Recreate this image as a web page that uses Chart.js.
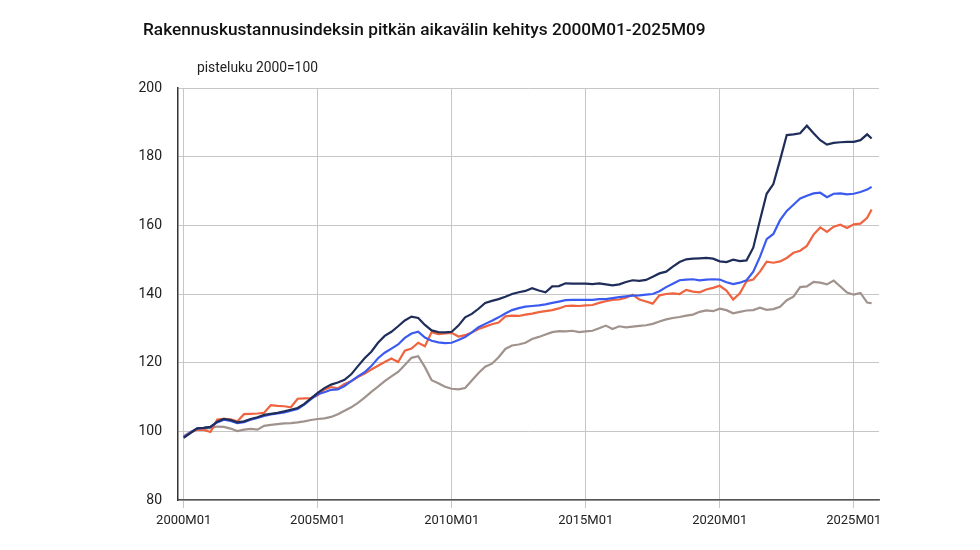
<!DOCTYPE html>
<html>
<head>
<meta charset="utf-8">
<script src="https://cdn.jsdelivr.net/npm/chart.js@4"></script>
<style>
  body { margin: 0; background: #fff; }
  #wrap { position: relative; width: 980px; height: 550px; font-family: Roboto, 'Noto Sans', sans-serif; }
  #title { position: absolute; left: 143px; top: 19px; font-size: 17.25px; font-weight: 500; color: #111; white-space: nowrap; }
  #sub { position: absolute; left: 197px; top: 59px; font-size: 13.8px; color: #222; white-space: nowrap; }
  canvas { position: absolute; left: 0; top: 0; }
</style>
</head>
<body>
<div id="wrap">
  <canvas id="chart" width="980" height="550"></canvas>
  <div id="title">Rakennuskustannusindeksin pitkän aikavälin kehitys 2000M01-2025M09</div>
  <div id="sub">pisteluku 2000=100</div>
</div>
<script>
// kuukaudet (neljännesvuosittain + viimeinen kuukausi)
const periods = [
  '2000M01','2000M04','2000M07','2000M10','2001M01','2001M04','2001M07','2001M10',
  '2002M01','2002M04','2002M07','2002M10','2003M01','2003M04','2003M07','2003M10',
  '2004M01','2004M04','2004M07','2004M10','2005M01','2005M04','2005M07','2005M10',
  '2006M01','2006M04','2006M07','2006M10','2007M01','2007M04','2007M07','2007M10',
  '2008M01','2008M04','2008M07','2008M10','2009M01','2009M04','2009M07','2009M10',
  '2010M01','2010M04','2010M07','2010M10','2011M01','2011M04','2011M07','2011M10',
  '2012M01','2012M04','2012M07','2012M10','2013M01','2013M04','2013M07','2013M10',
  '2014M01','2014M04','2014M07','2014M10','2015M01','2015M04','2015M07','2015M10',
  '2016M01','2016M04','2016M07','2016M10','2017M01','2017M04','2017M07','2017M10',
  '2018M01','2018M04','2018M07','2018M10','2019M01','2019M04','2019M07','2019M10',
  '2020M01','2020M04','2020M07','2020M10','2021M01','2021M04','2021M07','2021M10',
  '2022M01','2022M04','2022M07','2022M10','2023M01','2023M04','2023M07','2023M10',
  '2024M01','2024M04','2024M07','2024M10','2025M01','2025M04','2025M07','2025M09'
];
const xTickLabels = ['2000M01','2005M01','2010M01','2015M01','2020M01','2025M01'];
const yTickValues = [80, 100, 120, 140, 160, 180, 200];

// sarjat (luettu kuvasta)
const navySeries = [
  98.1, 99.5, 100.9, 101.0, 101.3, 102.8, 103.6, 103.3, 102.6, 102.9, 103.6, 104.1,
  104.8, 105.1, 105.4, 105.8, 106.3, 106.8, 108.0, 109.6, 111.2, 112.6, 113.6, 114.2,
  115.0, 116.6, 119.0, 121.3, 123.2, 125.8, 127.8, 129.0, 130.6, 132.3, 133.4, 133.0,
  131.0, 129.4, 128.9, 128.8, 129.0, 130.8, 133.2, 134.2, 135.7, 137.4, 138.0, 138.5,
  139.2, 140.0, 140.5, 140.9, 141.7, 141.0, 140.5, 142.2, 142.3, 143.1, 143.0, 143.0,
  143.0, 142.9, 143.1, 142.8, 142.5, 142.8, 143.5, 144.0, 143.8, 144.1, 145.0, 146.0,
  146.5, 148.0, 149.3, 150.1, 150.3, 150.4, 150.5, 150.3, 149.5, 149.3, 150.0, 149.6,
  149.8, 153.5, 161.5, 169.2, 172.0, 179.0, 186.3, 186.5, 186.8, 189.0, 186.8, 184.8,
  183.5, 184.0, 184.2, 184.3, 184.3, 184.8, 186.5, 185.3
];
const blueSeries = [
  98.3, 99.7, 100.8, 101.0, 101.3, 102.6, 103.4, 103.0, 102.4, 102.7, 103.4, 103.9,
  104.5, 104.9, 105.2, 105.5, 106.0, 106.5, 107.8, 109.4, 110.8, 111.4, 112.1, 112.2,
  113.2, 114.6, 116.0, 117.2, 119.0, 121.3, 122.9, 124.1, 125.3, 127.2, 128.5, 129.0,
  127.3, 126.4, 125.9, 125.7, 125.8, 126.6, 127.5, 128.8, 130.3, 131.3, 132.2, 133.2,
  134.3, 135.3, 135.9, 136.3, 136.5, 136.7, 137.0, 137.4, 137.8, 138.2, 138.3, 138.3,
  138.3, 138.3, 138.5, 138.5, 138.8, 139.1, 139.3, 139.5, 139.6, 139.8, 140.0, 140.8,
  142.0, 143.0, 144.0, 144.2, 144.3, 144.0, 144.2, 144.3, 144.2, 143.4, 142.9, 143.3,
  144.0, 146.5, 150.8, 156.0, 157.5, 161.5, 164.2, 166.0, 167.8, 168.6, 169.3, 169.5,
  168.2, 169.2, 169.3, 169.0, 169.2, 169.7, 170.4, 171.2
];
const redSeries = [
  98.5, 99.6, 100.5, 100.4, 99.8, 103.4, 103.6, 103.5, 102.9, 105.0, 105.1, 105.2,
  105.4, 107.6, 107.4, 107.3, 107.0, 109.5, 109.6, 109.7, 110.5, 112.2, 112.9, 112.5,
  113.8, 114.6, 115.8, 116.8, 118.0, 119.1, 120.2, 121.2, 120.2, 123.5, 124.1, 125.8,
  124.8, 128.9, 128.3, 128.5, 128.7, 127.6, 128.0, 128.8, 129.8, 130.5, 131.2, 131.7,
  133.5, 133.7, 133.6, 134.0, 134.3, 134.7, 135.0, 135.3, 135.8, 136.5, 136.6, 136.5,
  136.7, 136.8, 137.4, 137.9, 138.3, 138.4, 138.9, 139.8, 138.4, 137.8, 137.2, 139.6,
  140.0, 140.2, 140.0, 141.2, 140.7, 140.5, 141.3, 141.8, 142.4, 141.0, 138.4, 140.2,
  143.7, 144.2, 146.5, 149.4, 149.1, 149.5, 150.5, 152.0, 152.6, 154.0, 157.3, 159.4,
  158.1, 159.6, 160.2, 159.2, 160.3, 160.5, 162.2, 164.6
];
const graySeries = [
  98.6, 99.8, 100.7, 100.8, 100.9, 101.4, 101.3, 100.8, 100.1, 100.5, 100.7, 100.5,
  101.6, 101.9, 102.1, 102.3, 102.4, 102.6, 102.9, 103.3, 103.6, 103.8, 104.2, 105.0,
  106.0, 107.0, 108.3, 109.8, 111.5, 113.0, 114.6, 116.0, 117.3, 119.3, 121.4, 121.9,
  118.7, 114.9, 114.0, 113.0, 112.4, 112.2, 112.6, 114.8, 117.0, 118.8, 119.7, 121.6,
  124.0, 125.0, 125.3, 125.8, 126.9, 127.5, 128.2, 128.9, 129.2, 129.1, 129.3, 128.9,
  129.1, 129.3, 130.0, 130.8, 129.8, 130.6, 130.3, 130.5, 130.7, 130.9, 131.3, 132.0,
  132.6, 133.0, 133.3, 133.7, 134.0, 134.8, 135.2, 135.0, 135.7, 135.3, 134.4, 134.8,
  135.2, 135.3, 136.0, 135.4, 135.6, 136.3, 138.2, 139.2, 142.0, 142.2, 143.5, 143.3,
  142.8, 143.9, 142.2, 140.4, 139.8, 140.3, 137.5, 137.3
];

function monthIndex(p) {
  return (parseInt(p.slice(0, 4)) - 2000) * 12 + parseInt(p.slice(5)) - 1;
}
function toPoints(vals) {
  return vals.map(function(v, i) { return { x: monthIndex(periods[i]), y: v }; });
}

const gridColor = '#c6c6c6';
const tickFont = { family: 'Roboto', size: 13 };

var ctx = document.getElementById('chart').getContext('2d');
var chart = new Chart(ctx, {
  type: 'line',
  data: {
    datasets: [
      { label: 'Tarvikepanokset', data: toPoints(navySeries), borderColor: '#1f2d5a' },
      { label: 'Kokonaisindeksi', data: toPoints(blueSeries), borderColor: '#3b5bf0' },
      { label: 'Työpanokset', data: toPoints(redSeries), borderColor: '#f0633f' },
      { label: 'Palvelupanokset', data: toPoints(graySeries), borderColor: '#a0928d' }
    ]
  },
  options: {
    responsive: false,
    animation: false,
    layout: { padding: { top: 88, right: 101, bottom: 0, left: 0 } },
    elements: {
      point: { radius: 0 },
      line: { borderWidth: 2.2, tension: 0 }
    },
    plugins: {
      legend: { display: false },
      tooltip: { enabled: false }
    },
    scales: {
      x: {
        type: 'linear',
        min: -2.55,
        max: 311.3,
        afterBuildTicks: function(s) {
          s.ticks = xTickLabels.map(function(p) { return { value: monthIndex(p) }; });
        },
        afterFit: function(s) { s.height = 50; },
        ticks: {
          autoSkip: false,
          maxRotation: 0,
          padding: 5,
          color: '#222',
          font: tickFont,
          callback: function(value) {
            var lab = xTickLabels.find(function(p) { return monthIndex(p) === value; });
            return lab || '';
          }
        },
        grid: { color: gridColor, lineWidth: 1, tickLength: 8 },
        border: { color: '#555', width: 1.5 }
      },
      y: {
        min: 80,
        max: 200,
        afterBuildTicks: function(s) {
          s.ticks = yTickValues.map(function(v) { return { value: v }; });
        },
        afterFit: function(s) { s.width = 178; },
        ticks: { padding: 16, color: '#222', font: { family: 'Roboto', size: 14 } },
        grid: { color: gridColor, lineWidth: 1, drawTicks: false },
        border: { color: '#333', width: 1.5 }
      }
    }
  }
});
</script>
</body>
</html>
